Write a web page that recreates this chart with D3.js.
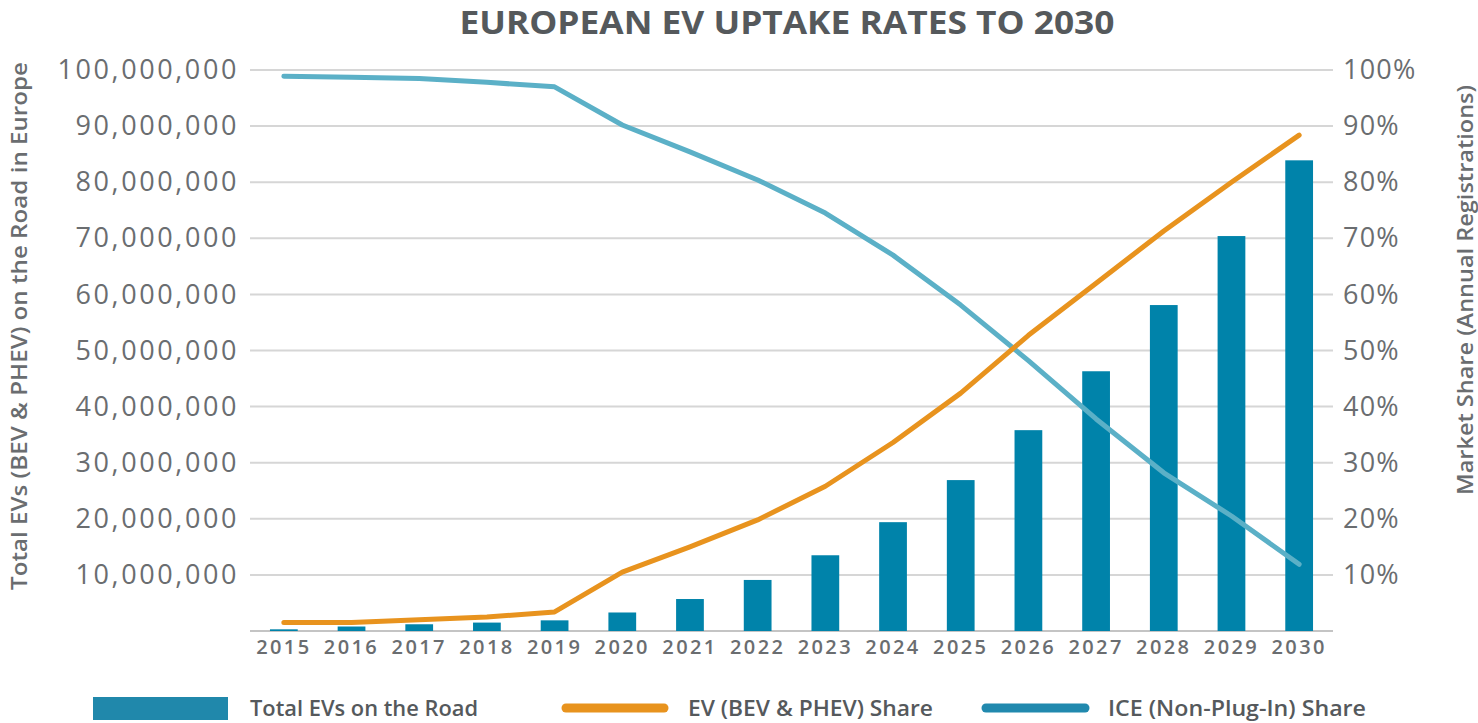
<!DOCTYPE html>
<html><head><meta charset="utf-8">
<script src="https://cdn.jsdelivr.net/npm/d3@7"></script>
<style>
body{margin:0;background:#fff;}
svg{display:block;}
text{font-family:"Open Sans","Noto Sans",sans-serif;}
</style></head>
<body>
<svg id="chart" width="1478" height="723"></svg>
<script>
const years = ["2015","2016","2017","2018","2019","2020","2021","2022","2023","2024","2025","2026","2027","2028","2029","2030"];
const totalEVs = [300000,800000,1200000,1500000,1900000,3300000,5700000,9100000,13500000,19400000,26900000,35800000,46300000,58100000,70400000,83900000];
const evShare = [0.015,0.015,0.020,0.025,0.034,0.105,0.150,0.198,0.258,0.336,0.424,0.527,0.620,0.713,0.800,0.884];
const iceShare = [0.989,0.987,0.985,0.978,0.970,0.902,0.854,0.804,0.745,0.670,0.581,0.482,0.378,0.282,0.205,0.119];
const leftTicks = [10000000,20000000,30000000,40000000,50000000,60000000,70000000,80000000,90000000,100000000];
const rightTicks = [0.1,0.2,0.3,0.4,0.5,0.6,0.7,0.8,0.9,1.0];
const title = "EUROPEAN EV UPTAKE RATES TO 2030";
const leftTitle = "Total EVs (BEV & PHEV) on the Road in Europe";
const rightTitle = "Market Share (Annual Registrations)";
const legendLabels = ["Total EVs on the Road","EV (BEV & PHEV) Share","ICE (Non-Plug-In) Share"];

const svg = d3.select("#chart");
const X0 = 250, X1 = 1333, Y0 = 631, Y1 = 70;
const x = d3.scaleBand().domain(years).range([X0, X1]).paddingInner(0.59).paddingOuter(0.295);
const yL = d3.scaleLinear().domain([0, 100000000]).range([Y0, Y1]);
const yR = d3.scaleLinear().domain([0, 1]).range([Y0, Y1]);
const grey = "#6a6d70";

// title
svg.append("text").attr("x", 787).attr("y", 34).attr("text-anchor","middle")
  .attr("font-weight","bold").attr("font-size",32).attr("fill","#55595c")
  .attr("textLength",655).attr("lengthAdjust","spacingAndGlyphs").text(title);

// gridlines
svg.append("g").selectAll("line").data([0, ...leftTicks]).join("line")
  .attr("x1", X0).attr("x2", X1).attr("y1", d => yL(d)).attr("y2", d => yL(d))
  .attr("stroke", d => d === 0 ? "#c4c4c4" : "#d6d6d6").attr("stroke-width", 2);

// left axis
const axL = svg.append("g").attr("transform", `translate(${X0},0)`)
  .call(d3.axisLeft(yL).tickValues(leftTicks).tickSize(0).tickPadding(11).tickFormat(d3.format(",")));
axL.select(".domain").remove();
axL.selectAll("text").attr("font-size",27).attr("fill",grey)
  .attr("font-weight",400).attr("letter-spacing",2.6);

// right axis
const axR = svg.append("g").attr("transform", `translate(${X1},0)`)
  .call(d3.axisRight(yR).tickValues(rightTicks).tickSize(0).tickPadding(10).tickFormat(d3.format(".0%")));
axR.select(".domain").remove();
axR.selectAll("text").attr("font-size",27).attr("fill",grey).attr("font-weight",400).attr("letter-spacing",1.2);

// x axis
const axB = svg.append("g").attr("transform", `translate(0,${Y0})`)
  .call(d3.axisBottom(x).tickSize(0).tickPadding(8));
axB.select(".domain").remove();
axB.selectAll("text").attr("font-size",20).attr("fill",grey).attr("font-weight",600).attr("letter-spacing",2.4).attr("dy","0.75em");

// bars
svg.append("g").selectAll("rect").data(years).join("rect")
  .attr("x", d => x(d)).attr("width", x.bandwidth())
  .attr("y", (d,i) => yL(totalEVs[i])).attr("height", (d,i) => Y0 - yL(totalEVs[i]))
  .attr("fill", "#0083aa");

// lines
const cx = d => x(d) + x.bandwidth()/2;
const lineGen = d3.line().x((d,i) => cx(years[i])).y(d => yR(d));
svg.append("path").datum(iceShare).attr("d", lineGen).attr("fill","none")
  .attr("stroke","#5bb0c7").attr("stroke-width",5).attr("stroke-linejoin","round").attr("stroke-linecap","round");
svg.append("path").datum(evShare).attr("d", lineGen).attr("fill","none")
  .attr("stroke","#e8931e").attr("stroke-width",5).attr("stroke-linejoin","round").attr("stroke-linecap","round");

// axis titles
svg.append("text").attr("transform","translate(27,326) rotate(-90)").attr("text-anchor","middle")
  .attr("font-size",21).attr("fill",grey).attr("font-weight",600)
  .attr("textLength",528).attr("lengthAdjust","spacingAndGlyphs").text(leftTitle);
svg.append("text").attr("transform","translate(1473,290) rotate(-90)").attr("text-anchor","middle")
  .attr("font-size",21).attr("fill",grey).attr("font-weight",600)
  .attr("textLength",410).attr("lengthAdjust","spacingAndGlyphs").text(rightTitle);

// legend
const lg = svg.append("g");
lg.append("rect").attr("x",93).attr("y",697).attr("width",135).attr("height",23).attr("fill","#2088ab");
lg.append("line").attr("x1",566).attr("x2",664).attr("y1",708).attr("y2",708)
  .attr("stroke","#e8931e").attr("stroke-width",9).attr("stroke-linecap","round");
lg.append("line").attr("x1",986).attr("x2",1085).attr("y1",708).attr("y2",708)
  .attr("stroke","#2189ae").attr("stroke-width",9).attr("stroke-linecap","round");
const lx = [250, 688, 1108], lw = [228, 245, 258];
lg.selectAll("text.l").data(legendLabels).join("text").attr("class","l")
  .attr("x",(d,i)=>lx[i]).attr("y",716)
  .attr("font-size",21).attr("font-weight",600).attr("fill","#55595c")
  .attr("textLength",(d,i)=>lw[i]).attr("lengthAdjust","spacingAndGlyphs").text(d=>d);
</script>
</body></html>
